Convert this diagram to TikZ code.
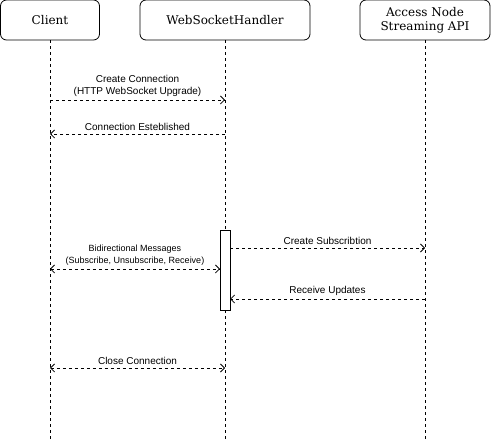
\documentclass[tikz,border=0pt]{standalone}
\usepackage{fontspec}
\setmainfont{DejaVu Serif}
\newfontfamily\msgfont{Liberation Sans}
\usetikzlibrary{arrows.meta}

\tikzset{
  actor/.style={draw, rounded corners=6pt, minimum height=40pt, align=center,
    inner sep=2pt, font=\fontsize{12}{14}\selectfont},
  life/.style={dash pattern=on 3pt off 3pt},
  msg/.style={dash pattern=on 3pt off 3pt, -{Straight Barb[length=4pt,width=8pt]}},
  both/.style={dash pattern=on 3pt off 3pt, {Straight Barb[length=4pt,width=8pt]}-{Straight Barb[length=4pt,width=8pt]}},
  lbl/.style={midway, above=2pt, align=center, inner sep=1pt,
    font=\msgfont\fontsize{10}{12.5}\selectfont},
}

\begin{document}
\begin{tikzpicture}[x=1pt, y=-1pt, line width=0.8pt]
  \useasboundingbox (0,0) rectangle (491,441);

  % participants
  \node[actor, minimum width=99pt] (client) at (50,20) {Client};
  \node[actor, minimum width=170pt] (handler) at (225,20) {WebSocketHandler};
  \node[actor, minimum width=130pt] (access) at (425,20) {Access Node\\Streaming API};

  % lifelines
  \coordinate (client end) at (50,441);
  \coordinate (handler end) at (225,441);
  \coordinate (access end) at (425,441);
  \draw[life] (client) -- (client end);
  \draw[life] (handler) -- (handler end);
  \draw[life] (access) -- (access end);

  % activation
  \node[draw, fill=white, minimum width=10pt, minimum height=80pt, inner sep=0pt] (act) at (225,270) {};

  % message ends
  \coordinate (c1) at (50,100);   \coordinate (h1) at (225,100);
  \coordinate (c2) at (50,134);   \coordinate (h2) at (225,134);
  \coordinate (c3) at (50,269);   \coordinate (h3) at (220,269);
  \coordinate (h4) at (230,248);  \coordinate (a4) at (425,248);
  \coordinate (h5) at (230,299);  \coordinate (a5) at (425,299);
  \coordinate (c6) at (50,368);   \coordinate (h6) at (225,368);

  % messages
  \draw[msg] (c1) -- (h1) node[lbl] {Create Connection\\(HTTP WebSocket Upgrade)};
  \draw[msg] (h2) -- (c2) node[lbl] {Connection Esteblished};
  \draw[msg] (h4) -- (a4) node[lbl] {Create Subscribtion};
  \draw[both] (c3) -- (h3) node[lbl, font=\msgfont\fontsize{9}{12}\selectfont] {Bidirectional Messages\\(Subscribe, Unsubscribe, Receive)};
  \draw[msg] (a5) -- (h5) node[lbl] {Receive Updates};
  \draw[both] (c6) -- (h6) node[lbl] {Close Connection};
\end{tikzpicture}
\end{document}
